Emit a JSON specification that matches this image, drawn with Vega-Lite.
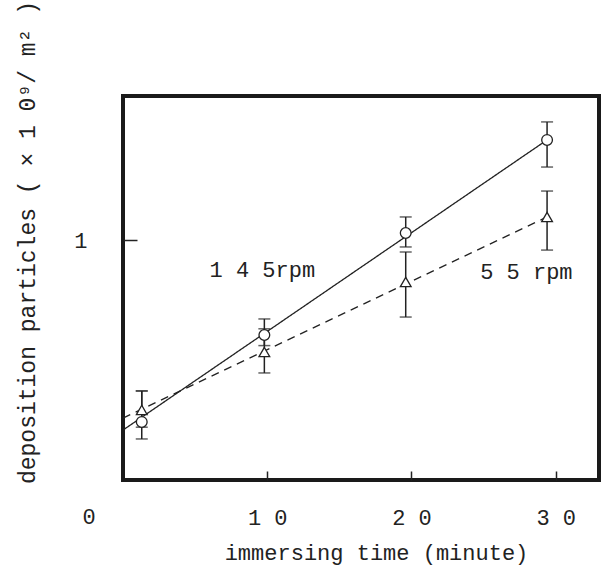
{
  "$schema": "https://vega.github.io/schema/vega-lite/v6.json",
  "width": 476,
  "height": 384,
  "autosize": {"type": "none"},
  "padding": {"left": 123, "top": 96, "right": 5, "bottom": 87},
  "background": "white",
  "config": {
    "font": "Liberation Mono",
    "view": {"stroke": "#1a1a1a", "strokeWidth": 4},
    "axis": {"grid": false, "domain": false, "labelFont": "Liberation Mono", "titleFont": "Liberation Mono", "labelColor": "#222", "titleColor": "#222", "tickColor": "#222", "titleFontWeight": "normal"}
  },
  "datasets": {
    "points": [
      {"series": "145 rpm", "time": 1.3, "value": 0.242, "lo": 0.171, "hi": 0.371},
      {"series": "145 rpm", "time": 9.8, "value": 0.604, "lo": 0.56, "hi": 0.671},
      {"series": "145 rpm", "time": 19.6, "value": 1.029, "lo": 0.971, "hi": 1.096},
      {"series": "145 rpm", "time": 29.4, "value": 1.417, "lo": 1.304, "hi": 1.492},
      {"series": "55 rpm", "time": 1.3, "value": 0.292, "lo": 0.22, "hi": 0.371},
      {"series": "55 rpm", "time": 9.8, "value": 0.533, "lo": 0.446, "hi": 0.63},
      {"series": "55 rpm", "time": 19.6, "value": 0.825, "lo": 0.679, "hi": 0.95},
      {"series": "55 rpm", "time": 29.4, "value": 1.096, "lo": 0.958, "hi": 1.204}
    ],
    "fits": [
      {"series": "145 rpm", "time": 0, "value": 0.208},
      {"series": "145 rpm", "time": 29.4, "value": 1.417},
      {"series": "55 rpm", "time": 0, "value": 0.258},
      {"series": "55 rpm", "time": 29.4, "value": 1.096}
    ],
    "labels": [
      {"text": "1 4 5rpm", "time": 6.0, "value": 0.875},
      {"text": "5 5 rpm", "time": 24.76, "value": 0.867}
    ],
    "origin": [{"text": "0", "time": 0, "value": 0}]
  },
  "layer": [
    {
      "data": {"name": "fits"},
      "mark": {"type": "line", "color": "#222", "strokeWidth": 1.3},
      "encoding": {
        "x": {"field": "time", "type": "quantitative", "scale": {"domain": [0, 33], "nice": false, "zero": false},
          "axis": {"values": [10, 20, 30], "tickSize": -9, "tickWidth": 1.5, "labelFontSize": 22, "labelPadding": 46, "labelBaseline": "middle", "labelExpr": "join(split(datum.label, ''), ' ')",
            "title": "immersing time (minute)", "titleFontSize": 22, "titleX": 253, "titleY": 72, "titleBaseline": "middle", "titleAlign": "center", "titleAnchor": null}},
        "y": {"field": "value", "type": "quantitative", "scale": {"domain": [0, 1.6], "nice": false},
          "axis": {"values": [1], "format": "d", "tickSize": -14, "tickWidth": 1.5, "labelFontSize": 22, "labelPadding": 50, "labelBaseline": "middle",
            "title": "deposition particles ( × 1 0⁹/ m² )", "titleFontSize": 23, "titleX": -96, "titleY": 146, "titleBaseline": "middle", "titleAlign": "center", "titleAngle": -90}},
        "strokeDash": {"field": "series", "type": "nominal", "scale": {"domain": ["145 rpm", "55 rpm"], "range": [[1, 0], [8, 6]]}, "legend": null},
        "detail": {"field": "series"}
      }
    },
    {
      "data": {"name": "points"},
      "mark": {"type": "rule", "color": "#222", "strokeWidth": 1.5},
      "encoding": {
        "x": {"field": "time", "type": "quantitative"},
        "y": {"field": "lo", "type": "quantitative"},
        "y2": {"field": "hi"}
      }
    },
    {
      "data": {"name": "points"},
      "mark": {"type": "tick", "orient": "horizontal", "size": 12, "thickness": 1.5, "color": "#222"},
      "encoding": {
        "x": {"field": "time", "type": "quantitative"},
        "y": {"field": "lo", "type": "quantitative"}
      }
    },
    {
      "data": {"name": "points"},
      "mark": {"type": "tick", "orient": "horizontal", "size": 12, "thickness": 1.5, "color": "#222"},
      "encoding": {
        "x": {"field": "time", "type": "quantitative"},
        "y": {"field": "hi", "type": "quantitative"}
      }
    },
    {
      "data": {"name": "points"},
      "mark": {"type": "point", "filled": false, "fill": "white", "fillOpacity": 1, "stroke": "#222", "strokeWidth": 1.3, "opacity": 1},
      "encoding": {
        "x": {"field": "time", "type": "quantitative"},
        "y": {"field": "value", "type": "quantitative"},
        "shape": {"field": "series", "type": "nominal", "scale": {"domain": ["145 rpm", "55 rpm"], "range": ["circle", "triangle-up"]}, "legend": null},
        "size": {"value": 115}
      }
    },
    {
      "data": {"name": "labels"},
      "mark": {"type": "text", "align": "left", "baseline": "middle", "fontSize": 22, "color": "#222", "font": "Liberation Mono"},
      "encoding": {
        "x": {"field": "time", "type": "quantitative"},
        "y": {"field": "value", "type": "quantitative"},
        "text": {"field": "text"}
      }
    },
    {
      "data": {"name": "origin"},
      "mark": {"type": "text", "align": "center", "baseline": "middle", "fontSize": 22, "dx": -34, "dy": 37, "color": "#222", "font": "Liberation Mono"},
      "encoding": {
        "x": {"field": "time", "type": "quantitative"},
        "y": {"field": "value", "type": "quantitative"},
        "text": {"field": "text"}
      }
    }
  ]
}
